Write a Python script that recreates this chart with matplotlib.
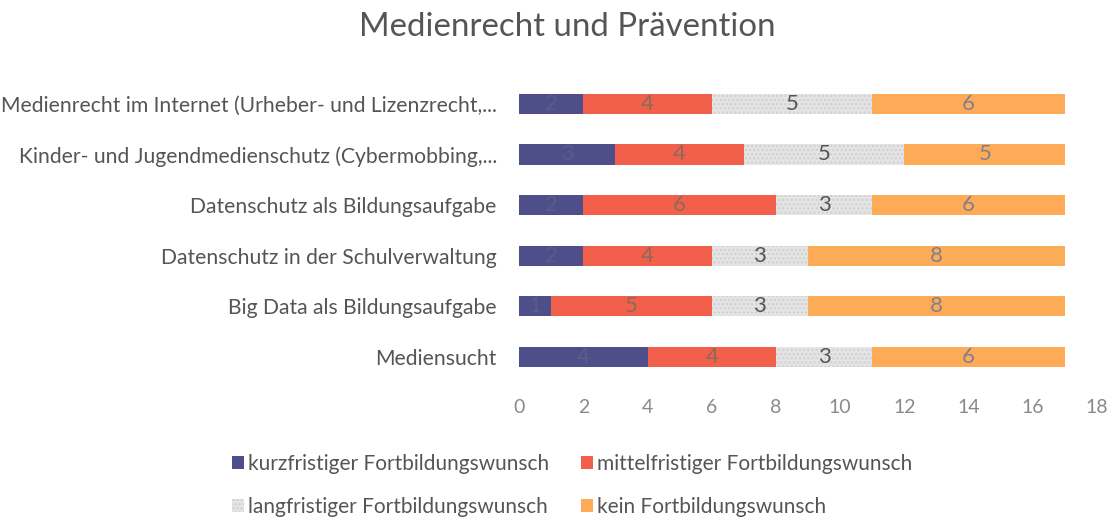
import matplotlib
matplotlib.use("Agg")
import matplotlib.pyplot as plt
import numpy as np

categories = [
    "Medienrecht im Internet (Urheber- und Lizenzrecht,...",
    "Kinder- und Jugendmedienschutz (Cybermobbing,...",
    "Datenschutz als Bildungsaufgabe",
    "Datenschutz in der Schulverwaltung",
    "Big Data als Bildungsaufgabe",
    "Mediensucht",
]
series_names = [
    "kurzfristiger Fortbildungswunsch",
    "mittelfristiger Fortbildungswunsch",
    "langfristiger Fortbildungswunsch",
    "kein Fortbildungswunsch",
]
kurz = [2, 3, 2, 2, 1, 4]
mittel = [4, 4, 6, 4, 5, 4]
lang = [5, 5, 3, 3, 3, 3]
kein = [6, 5, 6, 8, 8, 6]
xticks = [0, 2, 4, 6, 8, 10, 12, 14, 16, 18]

plt.rcParams['font.family'] = ['Lato', 'DejaVu Sans']

colors = ["#4e4f8a", "#f2604c", "#e4e4e4", "#fdab57"]
label_colors = ["#5a5c88", "#8a6a5a", "#555555", "#7f8090"]
hatches = [None, None, "....", None]

fig = plt.figure(figsize=(11.15, 5.2), dpi=100)
ax = fig.add_axes([0.4655, 0.265, 0.5185, 0.584])

data = [kurz, mittel, lang, kein]
y = np.arange(len(categories))
left = np.zeros(len(categories))
handles = []
for vals, name, c, lc, h in zip(data, series_names, colors, label_colors, hatches):
    vals = np.array(vals, dtype=float)
    bars = ax.barh(y, vals, left=left, height=0.4, color=c, label=name,
                   edgecolor="#cfcfcf" if h else c, linewidth=0, hatch=h)
    handles.append(bars)
    for yi, l, v in zip(y, left, vals):
        ax.text(l + v / 2, yi, f"{int(v)}", ha="center", va="center",
                fontsize=16, color=lc)
    left += vals

ax.set_ylim(len(categories) - 0.5, -0.5)
ax.set_xlim(0, 18)
ax.set_yticks(y)
ax.set_yticklabels(categories, fontsize=15.2, color="#555555")
ax.set_xticks(xticks)
ax.set_xticklabels([str(t) for t in xticks], fontsize=14, color="#8a8a8a")
ax.tick_params(axis="both", length=0)
ax.tick_params(axis="y", pad=16)
ax.tick_params(axis="x", pad=12)
for s in ax.spines.values():
    s.set_visible(False)

fig.text(0.509, 0.948, "Medienrecht und Prävention", ha="center", va="center",
         fontsize=23.8, color="#555555")

order = [0, 2, 1, 3]
leg = fig.legend(handles=[handles[i] for i in order],
                 labels=[series_names[i] for i in order], loc="center",
                 bbox_to_anchor=(0.513, 0.066), ncol=2, frameon=False,
                 fontsize=15, handlelength=0.6, handleheight=0.6,
                 handletextpad=0.2, columnspacing=1.5, labelspacing=1.1)
for t in leg.get_texts():
    t.set_color("#555555")

fig.savefig("out.png", dpi=100)
